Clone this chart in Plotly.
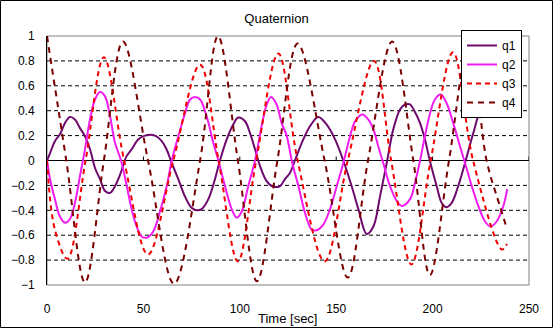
import plotly.graph_objects as go

# Quaternion components over time
q1_t = [0, 1.6, 4.1, 6.7, 9.3, 11.9, 14.5, 17.1, 19.7, 22.3, 24.9, 27.5, 30.1, 32.7, 35.3, 38, 41.3,
        43.9, 47.4, 50.8, 56, 59.5, 62, 64.7, 68.1, 71.6, 75, 77.6, 80.2, 83.7, 87.1, 89.7, 93.2, 96.6,
        99.2, 102.7, 105.3, 107.9, 110.5, 113.9, 117.4, 120.9, 123.4, 126, 128.6, 132.1, 136.4, 140.7,
        145, 149.4, 153.7, 158, 161.5, 165.8, 169.3, 172.7, 176.2, 179.6, 183.1, 185.7, 188.3, 190.5,
        193.5, 196, 198.7, 202.1, 204.7, 207, 209.9, 213.3, 216.8, 221.1, 225.5, 230, 234, 238.6]
q1_v = [0, 0.06, 0.155, 0.21, 0.30, 0.35, 0.33, 0.26, 0.195, 0.09, -0.06, -0.15, -0.245, -0.26, -0.205,
        -0.11, 0.035, 0.09, 0.17, 0.20, 0.20, 0.155, 0.09, -0.02, -0.15, -0.29, -0.38, -0.40, -0.39,
        -0.31, -0.15, 0, 0.17, 0.29, 0.345, 0.315, 0.22, 0.09, -0.045, -0.165, -0.21, -0.205, -0.15,
        -0.1, 0, 0.14, 0.275, 0.35, 0.29, 0.17, 0, -0.205, -0.39, -0.59, -0.53, -0.29, -0.02, 0.25,
        0.41, 0.45, 0.45, 0.40, 0.30, 0.17, -0.01, -0.205, -0.34, -0.375, -0.34, -0.205, -0.02, 0.22,
        0.42, 0.46, 0.45, 0.41]

q2_t = [0, 1.6, 4.1, 6.7, 9.3, 11.9, 14.5, 17.1, 19.7, 22.3, 24.9, 27.5, 30.1, 32.7, 35.3, 38.4, 41.3,
        43.9, 46.5, 49.1, 51.7, 55.1, 58.6, 62.1, 64.7, 68.1, 71.6, 74.2, 76.8, 79.4, 82.8, 86.3, 88.9,
        92.3, 95.8, 98.4, 101, 104.4, 107.9, 111.3, 114, 116.2, 119.1, 121.7, 124.3, 127.2, 130.4,
        133.8, 137.3, 139.9, 143.3, 146.8, 150.3, 153.7, 157.2, 159.8, 163.5, 166.6, 169.3, 171.8,
        174.4, 177.9, 181.4, 184, 188.3, 191, 193.5, 196, 198.7, 201.2, 204.2, 207.3, 210.7, 214.2,
        216.8, 220.3, 223.7, 227.2, 230.1, 233.2, 236.7, 238.7]
q2_v = [0, -0.15, -0.31, -0.45, -0.50, -0.47, -0.34, -0.125, 0.09, 0.33, 0.49, 0.55, 0.515, 0.355,
        0.14, 0, -0.2, -0.39, -0.53, -0.61, -0.62, -0.57, -0.41, -0.205, 0, 0.195, 0.38, 0.49, 0.51,
        0.49, 0.355, 0.14, 0, -0.205, -0.39, -0.46, -0.41, -0.205, 0, 0.275, 0.45, 0.51, 0.45, 0.3,
        0.2, -0.02, -0.205, -0.42, -0.555, -0.56, -0.515, -0.39, -0.205, -0.02, 0.195, 0.315, 0.37,
        0.33, 0.25, 0.115, -0.02, -0.205, -0.325, -0.365, -0.31, -0.17, 0, 0.195, 0.38, 0.49, 0.53,
        0.46, 0.30, 0.115, -0.02, -0.205, -0.365, -0.49, -0.53, -0.49, -0.365, -0.23]

q3_t = [0, 4.1, 10.6, 20, 29.5, 40, 52.4, 65.5, 79.4, 89, 99, 108.5, 120, 130, 144, 156, 169.6,
        178.5, 189, 199, 210.6, 221, 236, 238.6]
q3_v = [0, -0.555, -0.79, 0, 0.83, 0, -0.755, 0, 0.77, 0, -0.81, 0, 0.86, 0, -0.81, 0, 0.80, 0,
        -0.835, 0, 0.87, 0, -0.715, -0.67]

q4_t = [0, 10, 19.7, 29.5, 39.4, 52.4, 65.9, 79.4, 88.7, 99, 108.9, 119.5, 130, 144, 156, 166.5,
        179, 190, 198.6, 208.5, 219, 228, 235, 238.6]
q4_v = [1, 0, -0.98, 0, 0.955, 0, -0.99, 0, 1.0, 0, -0.97, 0, 0.94, 0, -0.94, 0, 0.955, 0, -0.92,
        0, 0.95, 0, -0.37, -0.55]

x_ticks = [0, 50, 100, 150, 200, 250]
y_ticks = [-1, -0.8, -0.6, -0.4, -0.2, 0, 0.2, 0.4, 0.6, 0.8, 1]
y_grid = [-0.8, -0.6, -0.4, -0.2, 0.2, 0.4, 0.6, 0.8]

FONT = "Liberation Sans"
W, H = 553, 328
L, R, T, B = 47, 529, 36, 285  # plot-area edges in pixels
PW, PH = R - L, B - T


def px_x(p):
    return (p - L) / PW


def px_y(p):
    return (B - p) / PH


fig = go.Figure()
series = [
    ("q1", q1_t, q1_v, dict(color="#6e0a6e", width=2)),
    ("q2", q2_t, q2_v, dict(color="#f01cf0", width=2)),
    ("q3", q3_t, q3_v, dict(color="#f00000", width=2, dash="5px,4px")),
    ("q4", q4_t, q4_v, dict(color="#7a0000", width=2, dash="6px,5px")),
]
for name, t, v, line in series:
    fig.add_trace(go.Scatter(x=t, y=v, name=name, mode="lines",
                             line=dict(shape="spline", **line)))

shapes = []
# plot-area frame
shapes.append(dict(type="rect", xref="paper", yref="paper", x0=0, x1=1, y0=0, y1=1,
                   line=dict(color="#808080", width=1), layer="below"))
# dashed horizontal gridlines
for g in y_grid:
    shapes.append(dict(type="line", xref="paper", yref="y", x0=0, x1=1, y0=g, y1=g,
                       line=dict(color="black", width=1, dash="4px,3px"), layer="below"))
# tick marks on the zero line
for xt in x_ticks[1:]:
    shapes.append(dict(type="line", xref="x", yref="y", x0=xt, x1=xt, y0=0, y1=0.032,
                       line=dict(color="black", width=1), layer="below"))
# outer chart border
shapes.append(dict(type="rect", xref="paper", yref="paper",
                   x0=px_x(0.5), x1=px_x(W - 0.5), y0=px_y(H - 0.5), y1=px_y(0.5),
                   line=dict(color="black", width=1), layer="above"))

fig.update_layout(
    width=W, height=H,
    margin=dict(l=L, r=W - R, t=T, b=H - B, pad=0),
    paper_bgcolor="white", plot_bgcolor="white",
    font=dict(family=FONT, size=12, color="black"),
    title=dict(text="Quaternion", x=0.5, xref="container", xanchor="center",
               y=1 - 18 / H, yanchor="middle", font=dict(family=FONT, size=13, color="black")),
    xaxis=dict(range=[0, 250], tickvals=x_ticks, showgrid=False, zeroline=False, showline=False,
               ticks="", ticklabelstandoff=15, tickfont=dict(size=12)),
    yaxis=dict(range=[-1, 1], tickvals=y_ticks, showgrid=False, zeroline=True,
               zerolinecolor="black", zerolinewidth=1, showline=True, linecolor="black",
               linewidth=1, ticks="", ticklabelstandoff=9, tickfont=dict(size=12)),
    shapes=shapes,
    legend=dict(x=px_x(461), y=px_y(30), xanchor="left", yanchor="top",
                bgcolor="white", bordercolor="black", borderwidth=1,
                font=dict(family=FONT, size=12, color="black"), tracegroupgap=0),
    annotations=[dict(text="Time [sec]", xref="paper", yref="paper", x=px_x(287), y=px_y(318),
                      xanchor="center", yanchor="middle", showarrow=False,
                      font=dict(family=FONT, size=13, color="black"))],
    showlegend=True,
)

fig.write_html("out.html")
